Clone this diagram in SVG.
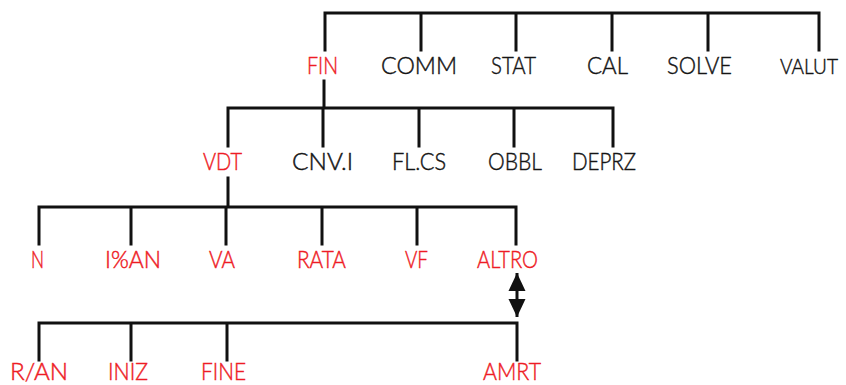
<svg xmlns="http://www.w3.org/2000/svg" width="846" height="385" viewBox="0 0 846 385">
<style>
  .ln{stroke:#111;stroke-width:3;fill:none;stroke-linecap:square}
  text{font-family:"Lato","Liberation Sans",sans-serif;font-size:23.5px;font-weight:300;stroke-width:0.45px}
  .r{fill:#ee1c25;stroke:#ee1c25}
  .k{fill:#151515;stroke:#151515}
</style>
<defs>
  <marker id="ah" markerUnits="userSpaceOnUse" markerWidth="19" markerHeight="18" refX="18" refY="9" orient="auto-start-reverse" viewBox="0 0 19 18">
    <path d="M0,0.5 L18,9 L0,17.5 z" fill="#111"/>
  </marker>
</defs>
<rect width="846" height="385" fill="#fff"/>
<g id="connectors">
  <path class="ln" d="M325,50 V13 H819 V50 M421,13 V50 M516,13 V50 M612,13 V50 M708,13 V50"/>
  <path class="ln" d="M324,81 V108 M228,146 V108 H613 V146 M323,108 V146 M419,108 V146 M514,108 V146"/>
  <path class="ln" d="M228,178 V207 M39,244 V207 H516 V244 M131,207 V244 M226,207 V244 M322,207 V244 M417,207 V244"/>
  <line x1="517" y1="273" x2="517" y2="317" stroke="#111" stroke-width="3" marker-start="url(#ah)" marker-end="url(#ah)"/>
  <path class="ln" d="M39,360 V323 H517 V360 M131,323 V360 M227,323 V360"/>
</g>
<g id="n-fin"><text class="r" x="307" y="74" textLength="31" lengthAdjust="spacingAndGlyphs">FIN</text></g>
<g id="n-comm"><text class="k" x="381" y="74" textLength="76" lengthAdjust="spacingAndGlyphs">COMM</text></g>
<g id="n-stat"><text class="k" x="491" y="74" textLength="45" lengthAdjust="spacingAndGlyphs">STAT</text></g>
<g id="n-cal"><text class="k" x="587" y="74" textLength="41" lengthAdjust="spacingAndGlyphs">CAL</text></g>
<g id="n-solve"><text class="k" x="667" y="74" textLength="65" lengthAdjust="spacingAndGlyphs">SOLVE</text></g>
<g id="n-valut"><text class="k" x="780" y="74" style="font-size:21.5px" textLength="58" lengthAdjust="spacingAndGlyphs">VALUT</text></g>
<g id="n-vdt"><text class="r" x="203" y="170" textLength="39" lengthAdjust="spacingAndGlyphs">VDT</text></g>
<g id="n-cnvi"><text class="k" x="292" y="170" textLength="61" lengthAdjust="spacingAndGlyphs">CNV.I</text></g>
<g id="n-flcs"><text class="k" x="392" y="170" textLength="54" lengthAdjust="spacingAndGlyphs">FL.CS</text></g>
<g id="n-obbl"><text class="k" x="488" y="170" textLength="54" lengthAdjust="spacingAndGlyphs">OBBL</text></g>
<g id="n-deprz"><text class="k" x="572" y="170" textLength="64" lengthAdjust="spacingAndGlyphs">DEPRZ</text></g>
<g id="n-n"><text class="r" x="31" y="268" textLength="13" lengthAdjust="spacingAndGlyphs">N</text></g>
<g id="n-ian"><text class="r" x="105" y="268" textLength="56" lengthAdjust="spacingAndGlyphs">I%AN</text></g>
<g id="n-va"><text class="r" x="209" y="268" textLength="26" lengthAdjust="spacingAndGlyphs">VA</text></g>
<g id="n-rata"><text class="r" x="297" y="268" textLength="49" lengthAdjust="spacingAndGlyphs">RATA</text></g>
<g id="n-vf"><text class="r" x="405" y="268" textLength="23" lengthAdjust="spacingAndGlyphs">VF</text></g>
<g id="n-altro"><text class="r" x="477" y="268" textLength="61" lengthAdjust="spacingAndGlyphs">ALTRO</text></g>
<g id="n-ran"><text class="r" x="10" y="380" textLength="58" lengthAdjust="spacingAndGlyphs">R/AN</text></g>
<g id="n-iniz"><text class="r" x="108" y="380" textLength="40" lengthAdjust="spacingAndGlyphs">INIZ</text></g>
<g id="n-fine"><text class="r" x="201" y="380" textLength="45" lengthAdjust="spacingAndGlyphs">FINE</text></g>
<g id="n-amrt"><text class="r" x="483" y="380" textLength="58" lengthAdjust="spacingAndGlyphs">AMRT</text></g>
</svg>
